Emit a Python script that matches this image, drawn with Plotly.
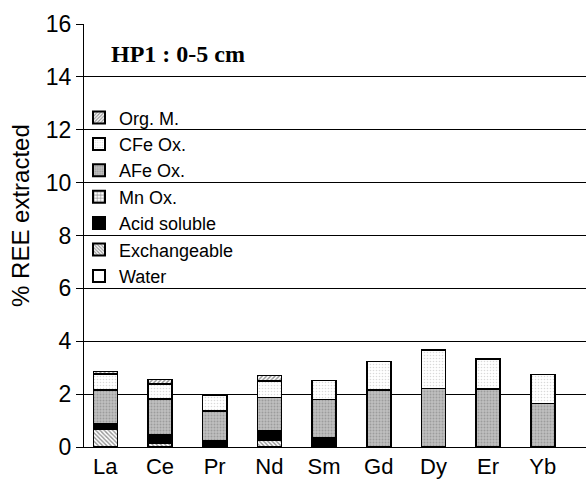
import plotly.graph_objects as go

# REE fractions (% extracted) for the HP1 soil profile, 0-5 cm
elements = ["La", "Ce", "Pr", "Nd", "Sm", "Gd", "Dy", "Er", "Yb"]
water = [0, 0, 0, 0, 0, 0, 0, 0, 0]
exchangeable = [0.69, 0.16, 0, 0.25, 0, 0, 0, 0, 0]
acid_soluble = [0.19, 0.31, 0.25, 0.37, 0.36, 0, 0, 0, 0]
mn_ox = [0, 0, 0, 0, 0, 0, 0, 0, 0]
afe_ox = [1.28, 1.34, 1.12, 1.26, 1.43, 2.15, 2.21, 2.20, 1.64]
cfe_ox = [0.60, 0.58, 0.58, 0.62, 0.72, 1.08, 1.45, 1.12, 1.11]
org_m = [0.09, 0.16, 0, 0.20, 0, 0, 0, 0, 0]

y_ticks = [0, 2, 4, 6, 8, 10, 12, 14, 16]

# name, values, fill colour, pattern settings
fractions = [
    ("Water", water, "white", None),
    ("Exchangeable", exchangeable, "white",
     dict(shape="\\", fgcolor="#2a2a2a", bgcolor="white", size=3, solidity=0.45)),
    ("Acid soluble", acid_soluble, "black", None),
    ("Mn Ox.", mn_ox, "white",
     dict(shape="+", fgcolor="black", bgcolor="white", size=4, solidity=0.35)),
    ("AFe Ox.", afe_ox, "#b8b8b8",
     dict(shape=".", fgcolor="#777777", bgcolor="#c0c0c0", size=3, solidity=0.35)),
    ("CFe Ox.", cfe_ox, "white",
     dict(shape=".", fgcolor="#b4b4b4", bgcolor="white", size=3, solidity=0.22)),
    ("Org. M.", org_m, "white",
     dict(shape="/", fgcolor="#222222", bgcolor="white", size=3, solidity=0.45)),
]

fig = go.Figure()
for name, vals, color, pattern in fractions:
    marker = dict(color=color, line=dict(color="black", width=1.6))
    if pattern is not None:
        marker["pattern"] = pattern
    fig.add_trace(go.Bar(x=elements, y=vals, name=name, width=0.44, marker=marker))

font_sans = "Liberation Sans, Arial, sans-serif"

fig.update_layout(
    width=586,
    height=479,
    margin=dict(l=84, r=0, t=24, b=30),
    barmode="stack",
    plot_bgcolor="white",
    paper_bgcolor="white",
    font=dict(family=font_sans, color="black"),
    legend=dict(
        traceorder="reversed",
        x=-0.01, xanchor="left",
        y=0.822, yanchor="top",
        bgcolor="rgba(0,0,0,0)",
        font=dict(size=18, family=font_sans),
        itemsizing="constant",
        tracegroupgap=0,
    ),
    xaxis=dict(
        range=[-0.39, 8.79],
        showline=True, linecolor="black", linewidth=1,
        ticks="", showgrid=False,
        tickfont=dict(size=22),
    ),
    yaxis=dict(
        range=[0, 16],
        tickvals=y_ticks,
        showline=True, linecolor="black", linewidth=1,
        ticks="outside", ticklen=7, tickcolor="black", tickwidth=1,
        showgrid=True, gridcolor="black", gridwidth=1,
        zeroline=False,
        tickfont=dict(size=23),
    ),
    annotations=[
        dict(
            text="<b>HP1 : 0-5 cm</b>",
            xref="paper", yref="paper",
            x=0.05, y=0.93, xanchor="left", yanchor="middle",
            showarrow=False,
            font=dict(family="Liberation Serif, Times New Roman, serif", size=24),
        ),
        dict(
            text="% REE extracted",
            xref="paper", yref="paper",
            x=-0.128, y=0.548, xanchor="center", yanchor="middle",
            textangle=-90, showarrow=False,
            font=dict(size=24),
        ),
    ],
)

fig.write_html("out.html")
